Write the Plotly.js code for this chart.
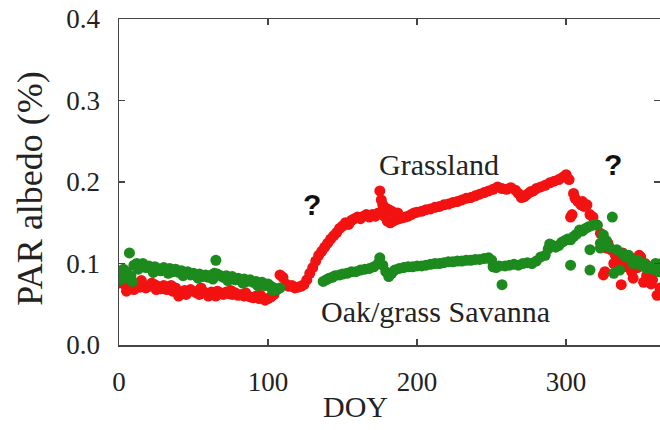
<!DOCTYPE html>
<html>
<head>
<meta charset="utf-8">
<script src="https://cdn.plot.ly/plotly-3.0.1.min.js"></script>
<style>
html,body{margin:0;padding:0;background:#fff;}
#chart{width:660px;height:430px;}
</style>
</head>
<body>
<div id="chart"></div>
<script>
// Grassland (red): DOY and PAR albedo
const grassDOY = [
  0,0,2,4,6,8,10,12,14,16,
  18,20,22,24,26,28,30,32,34,36,
  38,40,42,44,46,48,50,52,54,56,
  58,60,62,64,66,68,70,72,74,76,
  78,80,82,84,86,88,90,92,94,96,
  98,100,102,104,108,110,112,114,116,118,
  120,122,124,126,128,130,132,134,136,138,
  140,142,144,146,148,150,152,154,156,158,
  160,162,164,166,168,170,172,174,175,176,
  177,178,180,182,184,186,188,190,192,194,
  196,198,200,203,206,209,212,215,218,221,
  224,227,230,233,236,239,242,245,248,251,
  254,257,260,263,266,268,270,272,274,276,
  278,280,283,286,289,292,295,298,300,302,
  303,304,305,306,308,310,311,312,314,316,
  318,320,323,325,326,327,330,333,335,337,
  338,340,342,344,346,348,350,352,354,356,
  358,361,363,328,332,336,345,349,353,357,
  360,179,181,183,185,187,5,15,25,35,
  45,55,65,75,85,95
];
const grassAlbedo = [
  0.080,0.076,0.078,0.074,0.070,0.072,0.068,0.075,0.071,0.073,
  0.070,0.072,0.076,0.074,0.072,0.069,0.073,0.068,0.071,0.066,
  0.070,0.060,0.064,0.067,0.065,0.068,0.066,0.064,0.062,0.066,
  0.064,0.060,0.065,0.063,0.066,0.064,0.062,0.065,0.063,0.062,
  0.064,0.061,0.062,0.060,0.061,0.059,0.058,0.060,0.057,0.058,
  0.055,0.057,0.059,0.062,0.086,0.083,0.075,0.072,0.073,0.070,
  0.071,0.072,0.074,0.080,0.088,0.095,0.103,0.110,0.115,0.120,
  0.125,0.130,0.134,0.138,0.143,0.146,0.150,0.148,0.153,0.155,
  0.157,0.155,0.158,0.160,0.157,0.160,0.158,0.162,0.189,0.178,
  0.172,0.158,0.152,0.150,0.152,0.154,0.155,0.156,0.157,0.158,
  0.160,0.162,0.163,0.164,0.166,0.167,0.169,0.170,0.172,0.173,
  0.175,0.176,0.178,0.180,0.181,0.183,0.185,0.187,0.189,0.191,
  0.194,0.192,0.191,0.193,0.190,0.186,0.181,0.182,0.185,0.188,
  0.189,0.192,0.194,0.196,0.199,0.201,0.203,0.206,0.209,0.203,
  0.157,0.160,0.186,0.180,0.176,0.172,0.176,0.170,0.172,0.160,
  0.157,0.148,0.137,0.086,0.090,0.119,0.117,0.110,0.105,0.074,
  0.113,0.100,0.095,0.090,0.100,0.095,0.108,0.077,0.085,0.090,
  0.080,0.061,0.070,0.125,0.100,0.095,0.082,0.110,0.100,0.075,
  0.095,0.168,0.166,0.164,0.162,0.162,0.066,0.079,0.068,0.073,
  0.062,0.070,0.060,0.067,0.064,0.061
];

// Oak/grass Savanna (green): DOY and PAR albedo
const savannaDOY = [
  0,0,1,2,3,4,5,7,8,9,
  10,12,14,16,18,20,22,24,26,28,
  30,32,34,36,38,40,42,44,46,48,
  50,52,54,56,58,60,62,64,65,66,
  68,70,72,74,76,78,80,82,84,86,
  88,90,92,94,96,98,100,102,104,106,
  108,137,139,141,143,145,148,150,153,156,
  159,162,165,168,171,174,175,177,179,181,
  183,185,188,191,194,197,200,203,206,209,
  212,215,218,221,224,227,230,233,236,239,
  242,245,248,250,251,253,255,257,259,262,
  265,268,271,274,277,280,283,286,288,289,
  291,293,295,297,299,301,303,303,305,307,
  309,311,313,315,316,316,318,320,321,323,
  323,325,327,329,331,332,334,336,338,340,
  342,343,345,347,348,350,352,354,356,358,
  360,362,364,13,23,33,43,53,63,73,
  83,93,103
];
const savannaAlbedo = [
  0.085,0.090,0.080,0.088,0.093,0.082,0.090,0.113,0.085,0.078,
  0.098,0.100,0.097,0.100,0.095,0.097,0.093,0.096,0.094,0.091,
  0.095,0.092,0.094,0.090,0.093,0.089,0.091,0.088,0.090,0.086,
  0.088,0.085,0.087,0.084,0.086,0.083,0.086,0.088,0.104,0.087,
  0.085,0.083,0.085,0.082,0.084,0.080,0.082,0.079,0.081,0.078,
  0.080,0.077,0.078,0.075,0.077,0.073,0.075,0.072,0.070,0.068,
  0.070,0.078,0.080,0.082,0.083,0.085,0.086,0.087,0.088,0.090,
  0.090,0.092,0.093,0.094,0.096,0.100,0.107,0.098,0.090,0.084,
  0.088,0.092,0.094,0.095,0.096,0.096,0.097,0.097,0.098,0.099,
  0.100,0.100,0.101,0.102,0.102,0.103,0.103,0.104,0.104,0.105,
  0.105,0.106,0.107,0.104,0.096,0.095,0.097,0.074,0.097,0.098,
  0.099,0.098,0.100,0.101,0.100,0.103,0.108,0.110,0.118,0.124,
  0.122,0.120,0.122,0.126,0.128,0.130,0.098,0.129,0.133,0.136,
  0.141,0.140,0.143,0.145,0.092,0.117,0.147,0.148,0.147,0.125,
  0.119,0.135,0.128,0.120,0.157,0.088,0.117,0.092,0.112,0.108,
  0.110,0.107,0.100,0.104,0.104,0.098,0.100,0.094,0.096,0.093,
  0.100,0.090,0.100,0.093,0.089,0.088,0.085,0.082,0.081,0.079,
  0.076,0.073,0.067
];

const xTicks = [0, 100, 200, 300];
const yTicks = [0, 0.1, 0.2, 0.3, 0.4];
const seriesNames = ["Grassland", "Oak/grass Savanna"];

const traces = [
  {x: grassDOY, y: grassAlbedo, type: "scatter", mode: "markers", name: seriesNames[0],
   marker: {color: "#f21212", size: 11}, hoverinfo: "none"},
  {x: savannaDOY, y: savannaAlbedo, type: "scatter", mode: "markers", name: seriesNames[1],
   marker: {color: "#1c8a1c", size: 11}, hoverinfo: "none"}
];

function axisStyle(extra) {
  const base = {
    showgrid: false, zeroline: false, showline: true, mirror: "ticks",
    linecolor: "#444", linewidth: 1.5, ticks: "inside", ticklen: 6, tickwidth: 1.5,
    tickcolor: "#444", tickfont: {family: "Liberation Serif", size: 27, color: "#222"}
  };
  return Object.assign(base, extra);
}

const layout = {
  width: 660, height: 430,
  margin: {l: 119, r: 0, t: 19, b: 85},
  paper_bgcolor: "#fff", plot_bgcolor: "#fff",
  font: {family: "Liberation Serif", color: "#222"},
  showlegend: false,
  xaxis: axisStyle({range: [0, 363], tickvals: xTicks,
    ticktext: xTicks.map(String), ticklabelstandoff: 12}),
  yaxis: axisStyle({range: [0, 0.4], tickvals: yTicks,
    ticktext: yTicks.map(v => v.toFixed(1)), ticklabelstandoff: 12}),
  annotations: [
    {text: "PAR albedo (%)", xref: "paper", yref: "paper", x: -0.1645, y: 0.479,
     xanchor: "center", yanchor: "middle", textangle: -90, showarrow: false,
     font: {family: "Liberation Serif", size: 36, color: "#222"}},
    {text: "DOY", xref: "paper", yref: "paper", x: 0.438, y: -0.19,
     xanchor: "center", yanchor: "middle", showarrow: false,
     font: {family: "Liberation Serif", size: 30, color: "#222"}},
    {text: seriesNames[0], xref: "x", yref: "y", x: 215, y: 0.221,
     xanchor: "center", yanchor: "middle", showarrow: false,
     font: {family: "Liberation Serif", size: 30, color: "#222"}},
    {text: seriesNames[1], xref: "x", yref: "y", x: 212.4, y: 0.0405,
     xanchor: "center", yanchor: "middle", showarrow: false,
     font: {family: "Liberation Serif", size: 30, color: "#222"}},
    {text: "<b>?</b>", xref: "x", yref: "y", x: 129.5, y: 0.172,
     xanchor: "center", yanchor: "middle", showarrow: false,
     font: {family: "Liberation Sans", size: 30, color: "#111"}},
    {text: "<b>?</b>", xref: "x", yref: "y", x: 331.5, y: 0.221,
     xanchor: "center", yanchor: "middle", showarrow: false,
     font: {family: "Liberation Sans", size: 30, color: "#111"}}
  ]
};

Plotly.newPlot("chart", traces, layout, {staticPlot: true, displayModeBar: false});
</script>
</body>
</html>
